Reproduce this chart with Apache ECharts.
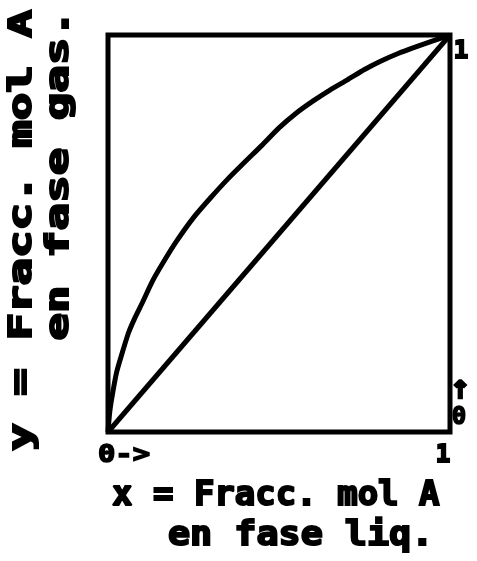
<!DOCTYPE html>
<html>
<head>
<meta charset="utf-8">
<script src="https://cdn.jsdelivr.net/npm/echarts@6/dist/echarts.min.js"></script>
<style>
  html, body { margin: 0; padding: 0; background: #fff; }
  #chart { width: 477px; height: 561px; }
</style>
</head>
<body>
<div id="chart"></div>
<script>
// Liquid-vapour equilibrium curve for component A (mole fractions)
const xLiq = [0, 0.005, 0.012, 0.025, 0.04, 0.06, 0.08, 0.10, 0.13, 0.16, 0.20, 0.25,
              0.30, 0.35, 0.40, 0.45, 0.50, 0.55, 0.60, 0.65, 0.70, 0.75, 0.80, 0.85,
              0.90, 0.95, 1.0];
const yGas = [0, 0.05, 0.09, 0.15, 0.195, 0.25, 0.29, 0.325, 0.38, 0.425, 0.48, 0.54,
              0.59, 0.637, 0.68, 0.722, 0.766, 0.803, 0.834, 0.862, 0.887, 0.913, 0.935, 0.954,
              0.97, 0.985, 1.0];
// y = x reference line
const diagX = [0, 1];
const diagY = [0, 1];
// Axis end labels
const xTickLabels = ['0->', '1'];
const yTickLabels = ['0', '1'];
const yArrow = '↑';
const xTitle = ['x = Fracc. mol A', 'en fase liq.'];
const yTitle = ['y = Fracc. mol A', 'en fase gas.'];

const chart = echarts.init(document.getElementById('chart'), null, { renderer: 'canvas' });

const FONT = '"DejaVu Sans Mono", "Liberation Mono", monospace';

function txt(text, x, y, opts) {
  return Object.assign({
    type: 'text',
    x: x, y: y,
    style: {
      text: text,
      font: 'bold ' + (opts.size || 32) + 'px ' + (opts.family || FONT),
      fill: '#000',
      stroke: '#000',
      lineWidth: opts.weight || 2,
      textAlign: opts.align || 'left',
      textVerticalAlign: 'middle'
    }
  }, opts.extra || {});
}

chart.setOption({
  backgroundColor: '#fff',
  animation: false,
  grid: {
    left: 108, right: 27, top: 35, bottom: 129,
    show: true, borderColor: '#000', borderWidth: 5, backgroundColor: 'transparent'
  },
  xAxis: {
    type: 'value', min: 0, max: 1, interval: 1,
    axisLine: { show: false }, axisTick: { show: false },
    axisLabel: { show: false }, splitLine: { show: false }
  },
  yAxis: {
    type: 'value', min: 0, max: 1, interval: 1,
    axisLine: { show: false }, axisTick: { show: false },
    axisLabel: { show: false }, splitLine: { show: false }
  },
  series: [
    {
      type: 'line',
      data: xLiq.map((v, i) => [v, yGas[i]]),
      symbol: 'none',
      smooth: 0.2,
      lineStyle: { color: '#000', width: 5 }
    },
    {
      type: 'line',
      data: diagX.map((v, i) => [v, diagY[i]]),
      symbol: 'none',
      lineStyle: { color: '#000', width: 5 }
    }
  ],
  graphic: [
    // bottom end labels
    txt(xTickLabels[0], 98, 456, { size: 24, weight: 1.5, extra: { scaleX: 1.2 } }),
    txt(xTickLabels[1], 443, 456, { size: 24, weight: 2, align: 'center' }),
    // right end labels
    txt(yTickLabels[1], 461, 52, { size: 24, weight: 2, align: 'center' }),
    txt(yArrow, 460, 392, { size: 24, weight: 2.5, align: 'center', family: '"DejaVu Sans", sans-serif' }),
    txt(yTickLabels[0], 459, 418, { size: 24, weight: 1.5, align: 'center' }),
    // x axis title (two lines)
    txt(xTitle[0], 112, 496, { size: 34 }),
    txt(xTitle[1], 168, 536, { size: 34, extra: { scaleX: 1.08 } }),
    // y axis title, rotated, right-aligned at the top
    txt(yTitle[0], 23, 10, { size: 32, align: 'right', extra: { rotation: Math.PI / 2, scaleX: 1.43 } }),
    txt(yTitle[1], 60, 10, { size: 32, align: 'right', extra: { rotation: Math.PI / 2, scaleX: 1.43 } })
  ]
});
</script>
</body>
</html>
